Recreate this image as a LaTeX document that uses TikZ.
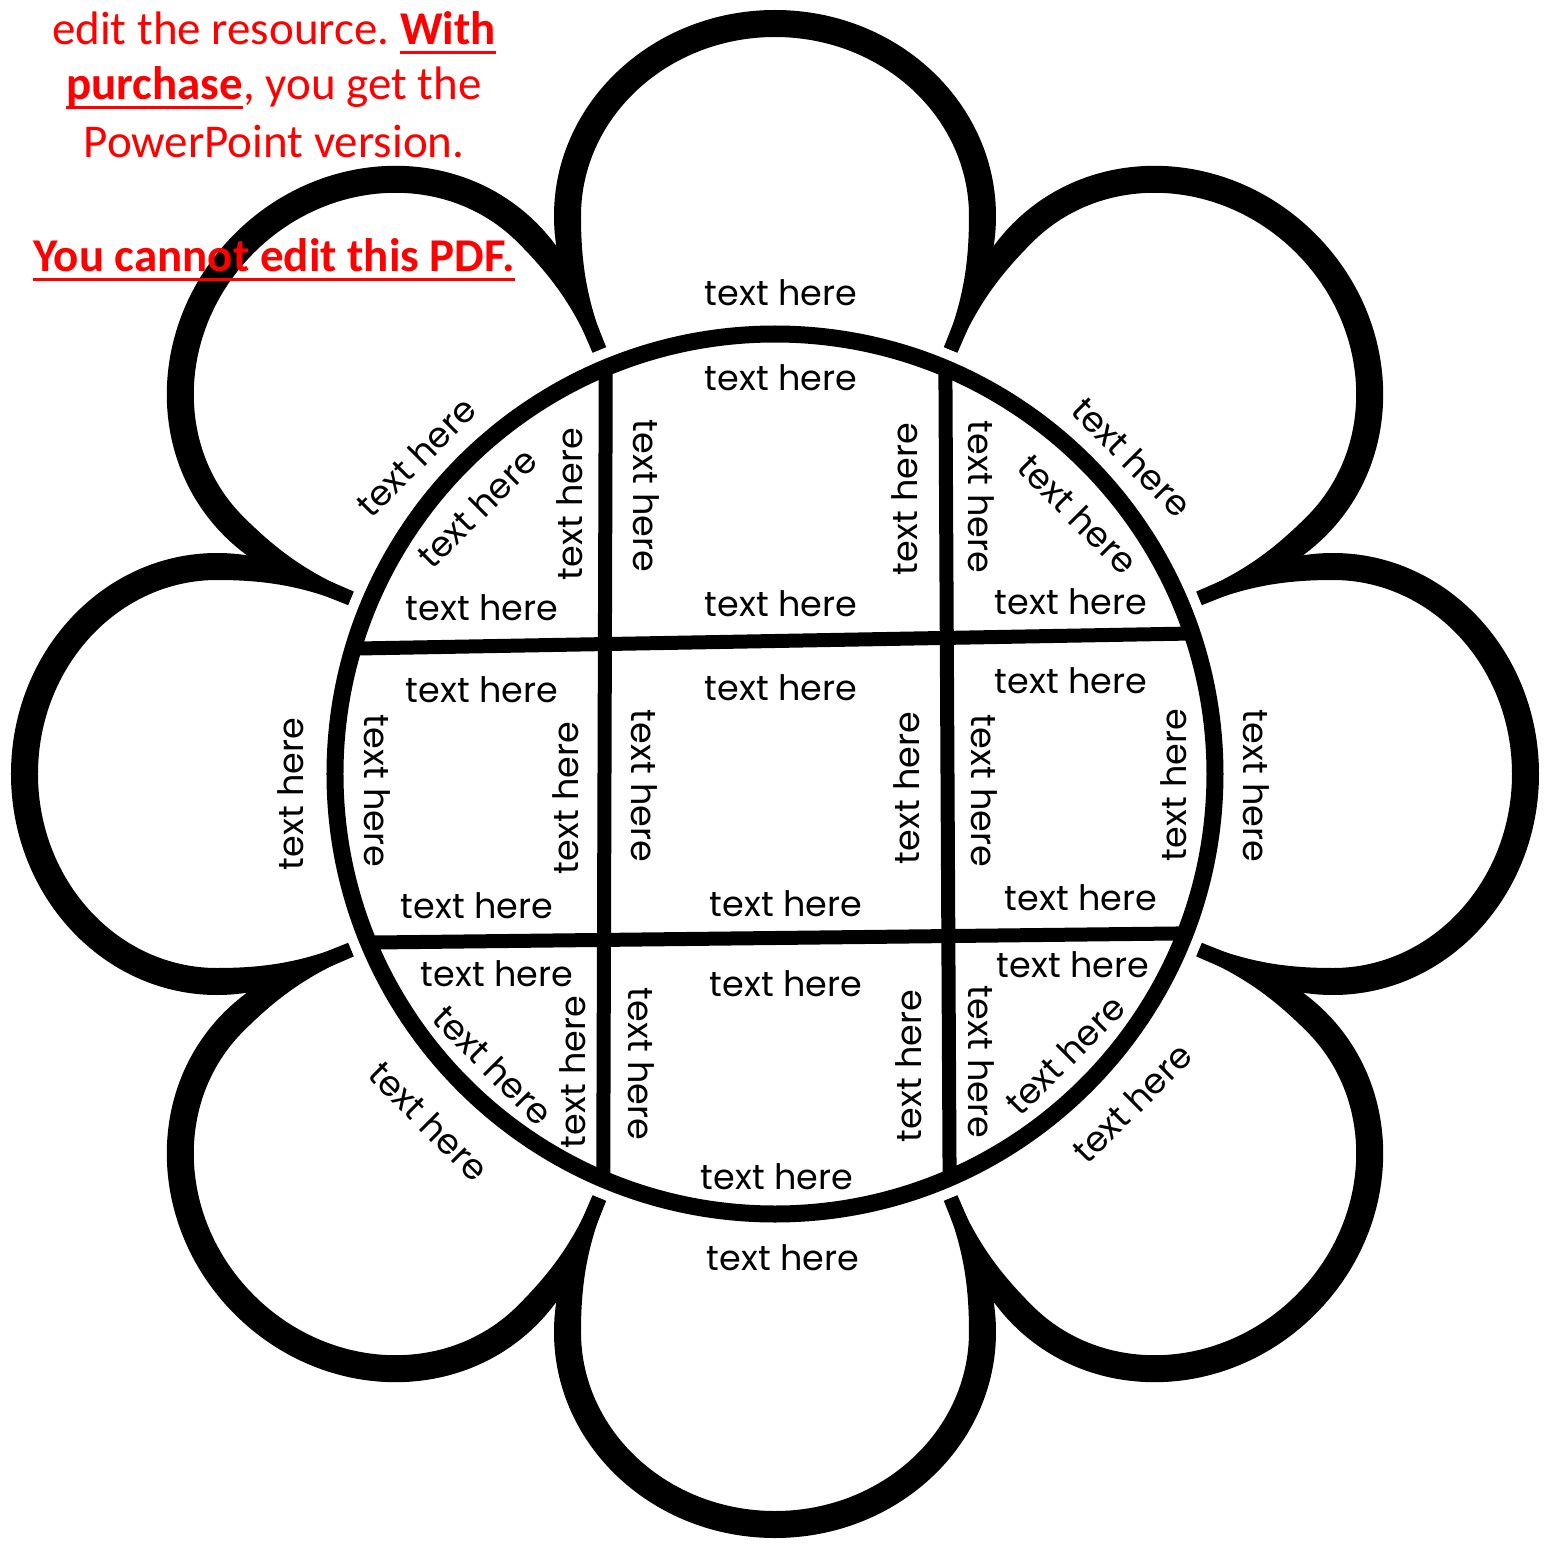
\documentclass[tikz,border=0pt]{standalone}
\usepackage{fontspec}
\setmainfont{Poppins}
\newfontfamily\calibri{Carlito}
\frenchspacing
\newcommand{\sotto}[1]{\setbox0\hbox{#1}\rlap{\rule[-9pt]{\wd0}{3pt}}\box0}
\tikzset{
    petalo/.style={fill=black, draw=none},
    bordo/.style={draw=black, line width=17pt},
    griglia/.style={draw=black, line width=14pt, line cap=butt},
    testo/.style={font=\fontsize{35}{42}\selectfont, inner sep=0pt, text=black},
    avviso/.style={font=\calibri\fontsize{47}{57}\selectfont, text=red, anchor=base, inner sep=0pt}
}

\begin{document}
\begin{tikzpicture}[x=1pt, y=1pt]
        \useasboundingbox (-775,-769) rectangle (778,774);
        \coordinate (centro) at (0,0);

        % -----------------------------------------------------------------
        % PETALI
        % -----------------------------------------------------------------
        \foreach \ang in {0,45,...,315} {
            \begin{scope}[rotate=\ang]
                \fill[petalo] (-169.5,426.7) .. controls (-188,473) and (-194,510) .. (-194,558)
                    arc[start angle=180, end angle=0, x radius=194, y radius=179]
                    .. controls (194,510) and (188,473) .. (169.5,426.7)
                    -- (182.5,421.3) .. controls (202,467) and (221,508) .. (221,558)
                    arc[start angle=0, end angle=180, x radius=221, y radius=206]
                    .. controls (-221,508) and (-202,467) .. (-182.5,421.3) -- cycle;
            \end{scope}
        }

        % -----------------------------------------------------------------
        % CERCHIO E GRIGLIA
        % -----------------------------------------------------------------
        \begin{scope}
            \clip (centro) circle[radius=440];
            \draw[griglia] (-169,480) -- (-172,-480);
            \draw[griglia] (170,480) -- (175,-480);
            \draw[griglia] (-445,125) -- (445,141);
            \draw[griglia] (-445,-169) -- (445,-159);
        \end{scope}
        \draw[bordo] (centro) circle[radius=440];

        % -----------------------------------------------------------------
        % TESTI DEI PETALI
        % -----------------------------------------------------------------
        \node[testo] (petN) at (6,481) {text here};
        \node[testo, rotate=90] (petW) at (-484,-20) {text here};
        \node[testo, rotate=-90] (petE) at (481,-12) {text here};
        \node[testo] (petS) at (8,-484) {text here};
        \node[testo, rotate=45] (petNW) at (-359,317) {text here};
        \node[testo, rotate=-45] (petNE) at (357,317) {text here};
        \node[testo, rotate=-45] (petSW) at (-346,-347) {text here};
        \node[testo, rotate=45] (petSE) at (357,-329) {text here};

        % -----------------------------------------------------------------
        % RIGA IN ALTO
        % -----------------------------------------------------------------
        \node[testo, rotate=45] (nwDiag) at (-298,266) {text here};
        \node[testo, rotate=90] (nwDx) at (-205,270) {text here};
        \node[testo] (nwGiu) at (-293,166) {text here};

        \node[testo] (nSu) at (6,396) {text here};
        \node[testo] (nGiu) at (6,170) {text here};
        \node[testo, rotate=-90] (nSx) at (-129,278) {text here};
        \node[testo, rotate=90] (nDx) at (130,275) {text here};

        \node[testo, rotate=-90] (neSx) at (206,277) {text here};
        \node[testo, rotate=-45] (neDiag) at (303,260) {text here};
        \node[testo] (neGiu) at (296,172) {text here};

        % -----------------------------------------------------------------
        % RIGA CENTRALE
        % -----------------------------------------------------------------
        \node[testo] (wSu) at (-293,84) {text here};
        \node[testo] (wGiu) at (-298,-132) {text here};
        \node[testo, rotate=-90] (wSx) at (-398,-17) {text here};
        \node[testo, rotate=90] (wDx) at (-209,-24) {text here};

        \node[testo] (cSu) at (6,86) {text here};
        \node[testo] (cGiu) at (11,-130) {text here};
        \node[testo, rotate=-90] (cSx) at (-131,-12) {text here};
        \node[testo, rotate=90] (cDx) at (132,-14) {text here};

        \node[testo] (eSu) at (296,93) {text here};
        \node[testo] (eGiu) at (306,-124) {text here};
        \node[testo, rotate=-90] (eSx) at (209,-17) {text here};
        \node[testo, rotate=90] (eDx) at (399,-11) {text here};

        % -----------------------------------------------------------------
        % RIGA IN BASSO
        % -----------------------------------------------------------------
        \node[testo] (swSu) at (-278,-200) {text here};
        \node[testo, rotate=-45] (swDiag) at (-282,-291) {text here};
        \node[testo, rotate=90] (swDx) at (-202,-298) {text here};

        \node[testo] (sSu) at (11,-210) {text here};
        \node[testo] (sGiu) at (2,-403) {text here};
        \node[testo, rotate=-90] (sSx) at (-134,-290) {text here};
        \node[testo, rotate=90] (sDx) at (134,-292) {text here};

        \node[testo] (seSu) at (298,-191) {text here};
        \node[testo, rotate=-90] (seSx) at (206,-288) {text here};
        \node[testo, rotate=45] (seDiag) at (290,-281) {text here};

        % -----------------------------------------------------------------
        % AVVISO
        % -----------------------------------------------------------------
        \node[avviso] (avviso1) at (-501,729) {edit the resource. \sotto{\textbf{With}}};
        \node[avviso] (avviso2) at (-501,674) {\sotto{\textbf{purchase}}, you get the};
        \node[avviso] (avviso3) at (-501,616) {PowerPoint version.};
        \node[avviso] (avviso4) at (-501,502) {\sotto{\textbf{You cannot edit this PDF.}}};

\end{tikzpicture}
\end{document}
